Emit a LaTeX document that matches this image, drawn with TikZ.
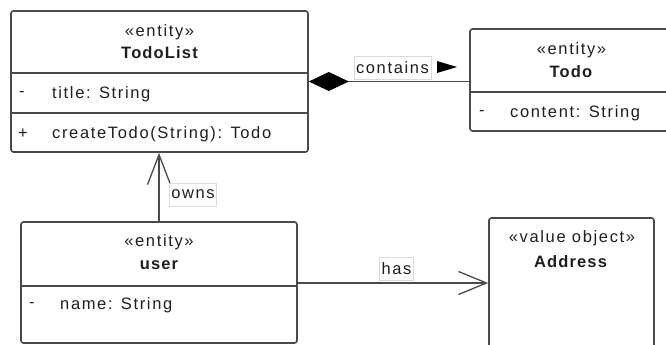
\documentclass[tikz,border=0pt]{standalone}
\usepackage{fontspec}
\setmainfont{Liberation Sans}[LetterSpace=10, BoldFeatures={LetterSpace=7}]
\usetikzlibrary{arrows.meta}
\definecolor{edge}{HTML}{4A4A4A}
\definecolor{ink}{HTML}{1E1E1E}
\definecolor{lblframe}{HTML}{DADADA}
\begin{document}
\begin{tikzpicture}[x=1pt,y=-1pt,
  font=\fontsize{16.5}{19}\selectfont,
  umlbox/.style={draw=edge, line width=1.6pt, rounded corners=2.5pt, inner sep=0pt},
  sepline/.style={draw=edge, line width=1.6pt},
  conn/.style={draw=edge, line width=1.3pt},
  lbl/.style={draw=lblframe, line width=0.6pt, fill=white, inner xsep=2pt, inner ysep=0pt, minimum height=23pt, text=ink},
  txt/.style={text=ink, inner sep=0pt},
  attr/.style={txt, anchor=west},
  cname/.style={txt, font=\fontsize{16.5}{19}\selectfont\bfseries}
]
\useasboundingbox (0,0) rectangle (666,345);
\clip (0,0) rectangle (666,345);

% class boxes
\node[umlbox, minimum width=297pt, minimum height=141pt] (todolist) at (159.5,81.5) {};
\node[umlbox, minimum width=202pt, minimum height=102pt] (todo) at (571,80) {};
\node[umlbox, minimum width=276pt, minimum height=121pt] (user) at (159,282.5) {};
\node[umlbox, minimum width=165pt, minimum height=150pt] (address) at (571.5,293) {};

% separators
\draw[sepline] (todolist.west |- 0,73) -- (todolist.east |- 0,73);
\draw[sepline] (todolist.west |- 0,113) -- (todolist.east |- 0,113);
\draw[sepline] (todo.west |- 0,92) -- (todo.east |- 0,92);
\draw[sepline] (user.west |- 0,286) -- (user.east |- 0,286);

% TodoList texts
\node[txt] (tlst) at (159.5,32) {«entity»};
\node[cname] (tlname) at (159.5,53) {TodoList};
\node[attr] (tlv1) at (19,94) {-};
\node[attr] (tla1) at (52,94) {title: String};
\node[attr] (tlv2) at (18,134) {+};
\node[attr] (tlo1) at (52,134) {createTodo(String): Todo};

% Todo texts
\node[txt] (tdst) at (571.5,50) {«entity»};
\node[cname] (tdname) at (571,72) {Todo};
\node[attr] (tdv1) at (479,113) {-};
\node[attr] (tda1) at (510,113) {content: String};

% user texts
\node[txt] (usst) at (159,242) {«entity»};
\node[cname] (usname) at (159,265) {user};
\node[attr] (usv1) at (29,305) {-};
\node[attr] (usa1) at (60,305) {name: String};

% Address texts
\node[txt] (adst) at (572,238) {«value object»};
\node[cname] (adname) at (570.5,262) {Address};

% connectors
\draw[conn, {Diamond[length=40pt,width=19pt,fill=black,color=black]}-] (todolist.east) -- (todolist.east -| todo.west);
\node[lbl] (contains) at (392.5,67.5) {contains};
\fill[black] (437,61) -- (457,67) -- (437,73) -- cycle;

\draw[conn, -{Straight Barb[length=30pt,width=23pt,line width=1.3pt]}] (user.north) -- (user.north |- todolist.south);
\node[lbl] (owns) at (193,194.5) {owns};

\draw[conn, -{Straight Barb[length=28pt,width=23pt,line width=1.3pt]}] (user.east |- 0,283) -- (address.west |- 0,283);
\node[lbl] (has) at (396.5,268.5) {has};
\end{tikzpicture}
\end{document}
